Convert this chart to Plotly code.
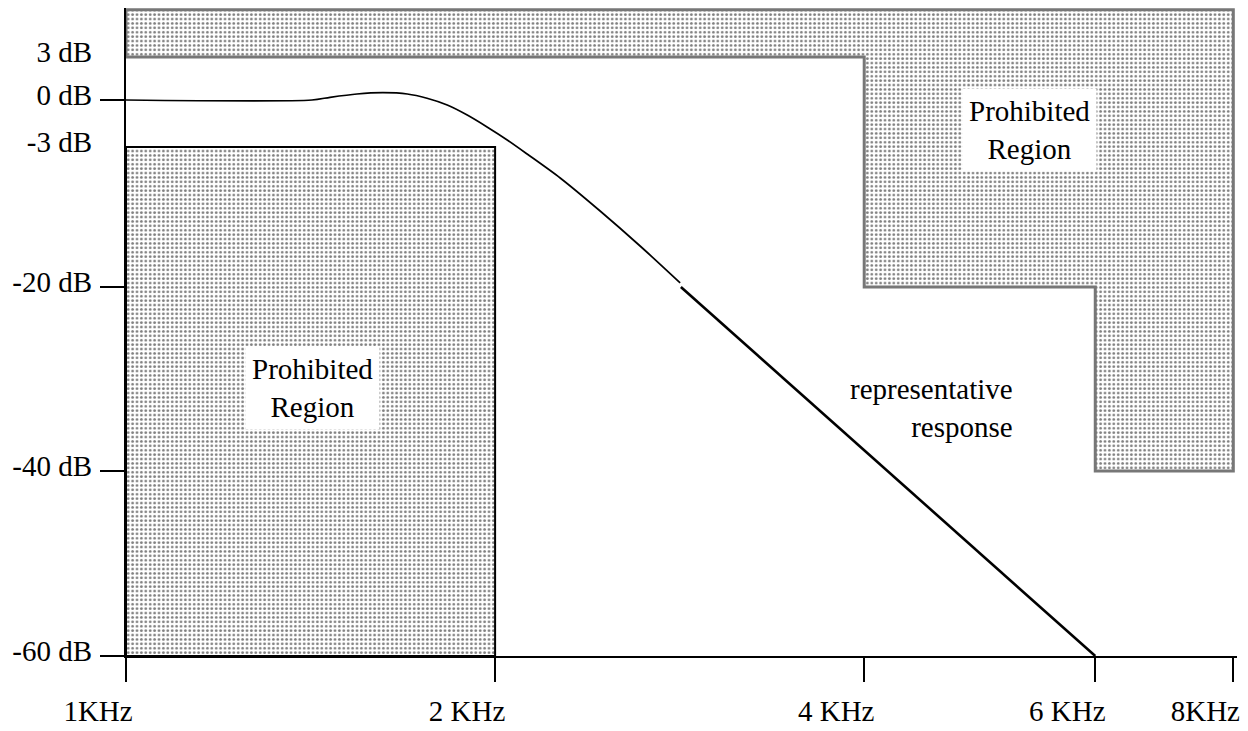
import numpy as np
import plotly.graph_objects as go

# ---------------- data ----------------
FREQ_TICKS = [1, 2, 4, 6, 8]                      # kHz
FREQ_LABELS = ["1KHz", "2 KHz", "4 KHz", "6 KHz", "8KHz"]
DB_TICKS = [3, 0, -3, -20, -40, -60]
DB_LABELS = ["3 dB", "0 dB", "-3 dB", "-20 dB", "-40 dB", "-60 dB"]
DB_TICK_MARKS = [0, -20, -40, -60]

# representative response
RESP_FREQ = [1.0, 1.418, 1.467, 1.543, 1.620, 1.696, 1.760, 1.828, 1.898,
             1.970, 2.046, 2.124, 2.260, 2.436, 2.626, 2.831]
RESP_DB = [0, 0, 0.19, 0.42, 0.51, 0.42, 0.12, -0.32, -0.96,
           -1.72, -2.55, -3.85, -6.76, -10.77, -15.02, -19.5]
ASYM_FREQ = [2.835, 6]
ASYM_DB = [-20, -60]

# prohibited regions (kHz, dB)
UPPER_FREQ = [1, 8, 8, 6, 6, 4, 4, 1, 1]
UPPER_DB = [6.3, 6.3, -40, -40, -20, -20, 3, 3, 6.3]
LOWER_FREQ = [1, 2, 2, 1, 1]
LOWER_DB = [-3, -3, -60, -60, -3]

# ---------------- schematic (non-uniform) scales of the drawing ----------------
FREQ_SCALE = [0, 1, 2, 2.626, 3]                  # octave-like axis units per tick
DB_SCALE = [4.64, 0, -5.07, -20.18, -40.03, -60]  # axis units per dB tick


def fx(f):
    return np.interp(np.log2(np.asarray(f, float)), np.log2(FREQ_TICKS), FREQ_SCALE)


def fy(db):
    db = np.asarray(db, float)
    d = np.array(DB_TICKS[::-1], float)
    s = np.array(DB_SCALE[::-1], float)
    out = np.interp(db, d, s)
    hi = db > d[-1]
    slope = (s[-1] - s[-2]) / (d[-1] - d[-2])
    out = np.where(hi, s[-1] + (db - d[-1]) * slope, out)
    return out


FONT = "Liberation Serif"
fig = go.Figure()

pattern = dict(shape=".", size=4.4, solidity=0.3, fgcolor="black", bgcolor="white")

fig.add_trace(go.Scatter(
    x=fx(UPPER_FREQ), y=fy(UPPER_DB), mode="lines", fill="toself",
    fillpattern=pattern, line=dict(color="#777777", width=3),
    hoverinfo="skip", showlegend=False))
fig.add_trace(go.Scatter(
    x=fx(LOWER_FREQ), y=fy(LOWER_DB), mode="lines", fill="toself",
    fillpattern=pattern, line=dict(color="black", width=2),
    hoverinfo="skip", showlegend=False))
fig.add_trace(go.Scatter(
    x=fx(RESP_FREQ), y=fy(RESP_DB), mode="lines",
    line=dict(color="black", width=1.7, shape="spline", smoothing=0.8),
    hoverinfo="skip", showlegend=False))
fig.add_trace(go.Scatter(
    x=fx(ASYM_FREQ), y=fy(ASYM_DB), mode="lines",
    line=dict(color="black", width=2.6),
    hoverinfo="skip", showlegend=False))
fig.add_trace(go.Scatter(x=[None], y=[None], yaxis="y2", showlegend=False,
                         hoverinfo="skip"))

tf = dict(family=FONT, size=29, color="black")

fig.add_annotation(x=float(fx(1.42)), y=float(fy(-31)), text="Prohibited<br>Region",
                   showarrow=False, font=tf, bgcolor="white", borderpad=6)
fig.add_annotation(x=float(fx(5.35)), y=float(fy(-1.9)), text="Prohibited<br>Region",
                   showarrow=False, font=tf, bgcolor="white", borderpad=6)
fig.add_annotation(x=float(fx(5.21)), y=float(fy(-33.2)),
                   text="representative<br>response", showarrow=False,
                   font=tf, xanchor="right", align="right")

# the page body adds an 8 px offset, so the figure is 8 px smaller than the window
y_range = [-60, 9.93]
fig.update_layout(
    width=1240, height=723,
    margin=dict(l=118, r=11, t=0, b=75, autoexpand=False),
    paper_bgcolor="white", plot_bgcolor="white",
    font=tf, showlegend=False,
    xaxis=dict(range=[0, 3.01], tickvals=fx(FREQ_TICKS), ticktext=FREQ_LABELS,
               ticks="outside", ticklen=24, tickwidth=2, tickcolor="black",
               showline=True, linecolor="black", linewidth=2,
               showgrid=False, zeroline=False, layer="below traces",
               tickfont=tf, ticklabelshift=-28, ticklabelstandoff=4,
               automargin=False),
    yaxis=dict(range=y_range, tickvals=fy(DB_TICK_MARKS), ticks="outside",
               ticklen=24, tickwidth=2, tickcolor="black", showticklabels=False,
               showline=True, linecolor="black", linewidth=2,
               showgrid=False, zeroline=False, layer="below traces",
               automargin=False),
    yaxis2=dict(range=y_range, overlaying="y", side="left", anchor="x",
                tickvals=fy(DB_TICKS), ticktext=DB_LABELS, ticks="",
                showline=False, showgrid=False, zeroline=False,
                tickfont=tf, ticklabelstandoff=33, ticklabelshift=-5,
                automargin=False),
)

fig.write_html("out.html")
